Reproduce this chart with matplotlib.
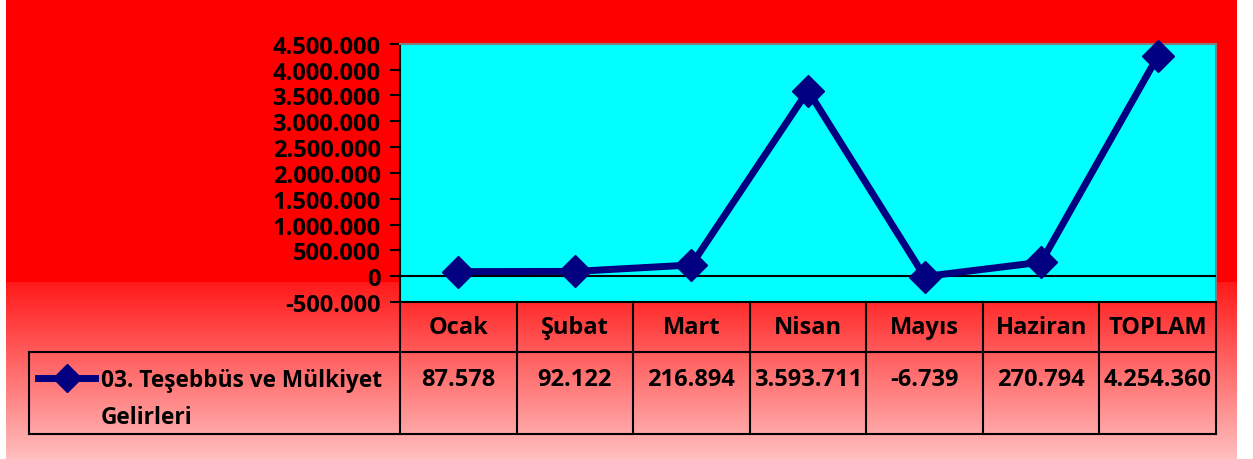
import numpy as np
import matplotlib
matplotlib.use("Agg")
import matplotlib.pyplot as plt
from matplotlib.lines import Line2D
from matplotlib.ticker import FuncFormatter

categories = ["Ocak", "Şubat", "Mart", "Nisan", "Mayıs", "Haziran", "TOPLAM"]
values = [87578, 92122, 216894, 3593711, -6739, 270794, 4254360]
value_labels = ["87.578", "92.122", "216.894", "3.593.711", "-6.739", "270.794", "4.254.360"]
series_name = ["03. Teşebbüs ve Mülkiyet", "Gelirleri"]
yticks = list(range(-500000, 4500001, 500000))

W, H = 1253, 460
FONT = "Open Sans"
FS = 17
NAVY = "#000080"
plt.rcParams["font.family"] = [FONT, "DejaVu Sans"]
plt.rcParams["font.weight"] = "bold"
plt.rcParams["font.size"] = FS

fig = plt.figure(figsize=(W / 100, H / 100), dpi=100)
fig.patch.set_facecolor("white")

def fx(x):
    return x / W

def fy(y):
    return 1 - y / H

# background gradient
bg = fig.add_axes([fx(6), 0, (1237 - 6) / W, 1], zorder=-10)
rows = np.arange(H)
t = np.clip((rows - 283) / (H - 283), 0, 1)
gb = np.where(rows < 283, 0.0, 0.10 + 0.65 * t)
grad = np.zeros((H, 2, 3))
grad[:, :, 0] = 1.0
grad[:, :, 1] = gb[:, None]
grad[:, :, 2] = gb[:, None]
bg.imshow(grad, aspect="auto", extent=[0, 1, 0, 1])
bg.axis("off")

# main plot
L, R, T, B = 400, 1216, 44.7, 303
ax = fig.add_axes([fx(L), fy(B), (R - L) / W, (B - T) / H])
ax.set_facecolor("#00FFFF")
x = np.arange(len(categories))
ax.plot(x, values, color=NAVY, lw=5, marker="D", markersize=16.5, zorder=5, clip_on=False)
ax.axhline(0, color="black", lw=1.5, zorder=3)
ax.set_xlim(-0.5, len(categories) - 0.5)
ax.set_ylim(-500000, 4500000)
ax.set_yticks(yticks)
ax.yaxis.set_major_formatter(FuncFormatter(lambda v, p: f"{int(v):,}".replace(",", ".")))
ax.set_xticks([])
ax.tick_params(axis="y", direction="out", length=7, width=1.5, pad=7, labelsize=FS)
ax.spines["left"].set_color("black")
ax.spines["left"].set_linewidth(1.5)
ax.spines["bottom"].set_color("black")
ax.spines["bottom"].set_linewidth(1.5)
for s in ["top", "right"]:
    ax.spines[s].set_color("#808080")
    ax.spines[s].set_linewidth(1.5)

# data table
def hline(x0, x1, y, lw=1.5):
    fig.add_artist(Line2D([fx(x0), fx(x1)], [fy(y), fy(y)], color="black", lw=lw))

def vline(x0, y0, y1, lw=1.5):
    fig.add_artist(Line2D([fx(x0), fx(x0)], [fy(y0), fy(y1)], color="black", lw=lw))

TB1, TB2 = 353, 435
LEG_L = 29
hline(LEG_L, R, TB1)
hline(LEG_L, R, TB2)
vline(LEG_L, TB1, TB2)
colw = (R - L) / len(categories)
for i in range(len(categories) + 1):
    vline(L + i * colw, B, TB2)

txt_kw = dict(fontweight="bold", fontsize=FS, color="black")
for i, (c, v) in enumerate(zip(categories, value_labels)):
    cx = L + (i + 0.5) * colw
    fig.text(fx(cx), fy(328), c, ha="center", va="center", **txt_kw)
    fig.text(fx(cx), fy(380), v, ha="center", va="center", **txt_kw)

# legend key
fig.add_artist(Line2D([fx(38), fx(95)], [fy(379), fy(379)], color=NAVY, lw=5))
fig.add_artist(Line2D([fx(67)], [fy(379)], color=NAVY, marker="D", markersize=14, lw=0))
leg_kw = dict(txt_kw, fontsize=16.3)
fig.text(fx(101), fy(381), series_name[0], ha="left", va="center", **leg_kw)
fig.text(fx(101), fy(418), series_name[1], ha="left", va="center", **leg_kw)

fig.savefig("out.png", dpi=100, facecolor=fig.get_facecolor())
